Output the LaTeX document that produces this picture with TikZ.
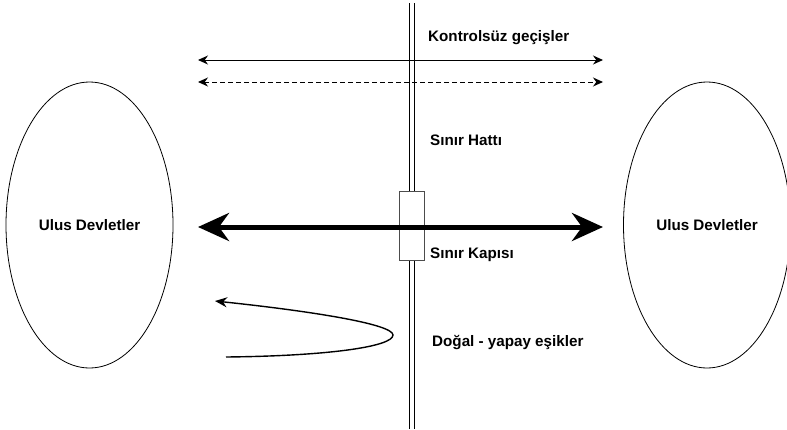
\documentclass[tikz,border=0pt]{standalone}
\usepackage{fontspec}
\setmainfont{Liberation Sans}
\usetikzlibrary{arrows.meta,shapes.geometric}

\begin{document}
\begin{tikzpicture}[x=1pt,y=-1pt,font=\fontsize{15.2}{18}\selectfont\bfseries]
    \tikzstyle{state}=[draw,ellipse,line width=0.8pt,minimum width=167pt,minimum height=286pt,inner sep=0pt]
    \tikzstyle{lbl}=[anchor=west,inner sep=0pt]
    \tikzstyle{thin arrow}=[{Stealth[length=10pt,width=9pt]}-{Stealth[length=10pt,width=9pt]},line width=1pt]
    \useasboundingbox (0,0) rectangle (787,429);
    \node[state] (lstate) at (89.5,225) {Ulus Devletler};
    \node[state] (rstate) at (707,225) {Ulus Devletler};
    % border line and gate
    \coordinate (btop) at (411.5,3);
    \coordinate (bbot) at (411.5,429);
    \draw[double,double distance=4pt,line width=1pt] (btop) -- (bbot);
    \node[draw=black!70,fill=white,line width=0.8pt,minimum width=25pt,minimum height=69pt,inner sep=0pt] (gate) at (411.5,225.5) {};
    % crossings
    \coordinate (a1) at (198,60);
    \coordinate (b1) at (603,60);
    \coordinate (a2) at (198,82);
    \coordinate (b2) at (603,82);
    \coordinate (a3) at (198,227);
    \coordinate (b3) at (603,227);
    \draw[thin arrow] (a1) -- (b1);
    \draw[thin arrow,dash pattern=on 5pt off 3pt] (a2) -- (b2);
    \draw[{Stealth[length=31pt,width=28pt]}-{Stealth[length=31pt,width=28pt]},line width=5pt] (a3) -- (b3);
    % thresholds
    \coordinate (c0) at (226,357);
    \coordinate (ctip) at (393,335);
    \coordinate (c1) at (215,301);
    \draw[-{Stealth[length=12pt,width=10pt]},line width=1.4pt] (c0) .. controls (325,356) and (393,347) .. (ctip)
      .. controls (393,324) and (310,311) .. (c1);
    \node[lbl] (free) at (428,38) {Kontrolsüz geçişler};
    \node[lbl] (line) at (430,140) {Sınır Hattı};
    \node[lbl] (gatelbl) at (430,255) {Sınır Kapısı};
    \node[lbl] (sill) at (432,343) {Doğal - yapay eşikler};
\end{tikzpicture}
\end{document}
